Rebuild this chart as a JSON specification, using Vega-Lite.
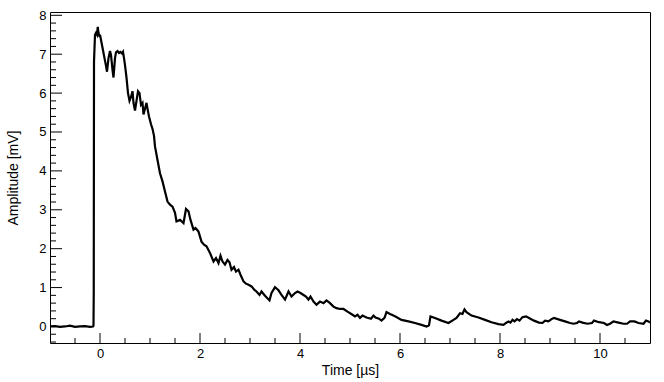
{
  "$schema": "https://vega.github.io/schema/vega-lite/v6.json",
  "width": 600,
  "height": 331,
  "autosize": "none",
  "padding": {"left": 50, "top": 12, "right": 14, "bottom": 39},
  "background": "white",
  "config": {
    "view": {"stroke": "black", "strokeWidth": 1},
    "axis": {
      "labelFont": "Liberation Sans",
      "titleFont": "Liberation Sans",
      "labelColor": "black",
      "titleColor": "black",
      "grid": false,
      "ticks": false,
      "domain": false,
      "labelFontSize": 13,
      "titleFontSize": 14,
      "titleFontWeight": "normal",
      "zindex": -1
    }
  },
  "datasets": {
    "xmajor": [{"pos": 0}, {"pos": 2}, {"pos": 4}, {"pos": 6}, {"pos": 8}, {"pos": 10}],
    "xminor": [{"pos": -0.5}, {"pos": 0.5}, {"pos": 1}, {"pos": 1.5}, {"pos": 2.5}, {"pos": 3}, {"pos": 3.5}, {"pos": 4.5}, {"pos": 5}, {"pos": 5.5}, {"pos": 6.5}, {"pos": 7}, {"pos": 7.5}, {"pos": 8.5}, {"pos": 9}, {"pos": 9.5}, {"pos": 10.5}],
    "ymajor": [{"pos": 0}, {"pos": 1}, {"pos": 2}, {"pos": 3}, {"pos": 4}, {"pos": 5}, {"pos": 6}, {"pos": 7}, {"pos": 8}],
    "yminor": [{"pos": -0.4}, {"pos": -0.2}, {"pos": 0.2}, {"pos": 0.4}, {"pos": 0.6}, {"pos": 0.8}, {"pos": 1.2}, {"pos": 1.4}, {"pos": 1.6}, {"pos": 1.8}, {"pos": 2.2}, {"pos": 2.4}, {"pos": 2.6}, {"pos": 2.8}, {"pos": 3.2}, {"pos": 3.4}, {"pos": 3.6}, {"pos": 3.8}, {"pos": 4.2}, {"pos": 4.4}, {"pos": 4.6}, {"pos": 4.8}, {"pos": 5.2}, {"pos": 5.4}, {"pos": 5.6}, {"pos": 5.8}, {"pos": 6.2}, {"pos": 6.4}, {"pos": 6.6}, {"pos": 6.8}, {"pos": 7.2}, {"pos": 7.4}, {"pos": 7.6}, {"pos": 7.8}],
    "wave": [
      {"t": -1.0, "v": 0.0}, {"t": -0.9, "v": 0.01}, {"t": -0.8, "v": -0.01}, {"t": -0.7, "v": 0.0},
      {"t": -0.6, "v": 0.02}, {"t": -0.5, "v": -0.01}, {"t": -0.4, "v": 0.0}, {"t": -0.3, "v": 0.01},
      {"t": -0.2, "v": -0.01}, {"t": -0.14, "v": 0.0}, {"t": -0.13, "v": 0.02}, {"t": -0.125, "v": 0.9},
      {"t": -0.12, "v": 6.8}, {"t": -0.1, "v": 7.5}, {"t": -0.08, "v": 7.55}, {"t": -0.06, "v": 7.5},
      {"t": -0.045, "v": 7.7}, {"t": -0.03, "v": 7.55}, {"t": -0.01, "v": 7.45}, {"t": 0.0, "v": 7.5},
      {"t": 0.03, "v": 7.3}, {"t": 0.06, "v": 7.1}, {"t": 0.09, "v": 6.9}, {"t": 0.12, "v": 6.7},
      {"t": 0.14, "v": 6.55}, {"t": 0.17, "v": 6.9}, {"t": 0.2, "v": 7.08}, {"t": 0.22, "v": 6.98},
      {"t": 0.25, "v": 6.6}, {"t": 0.27, "v": 6.4}, {"t": 0.3, "v": 6.9}, {"t": 0.32, "v": 7.05},
      {"t": 0.35, "v": 7.08}, {"t": 0.38, "v": 7.03}, {"t": 0.41, "v": 7.06}, {"t": 0.44, "v": 7.02},
      {"t": 0.46, "v": 7.06}, {"t": 0.48, "v": 6.9}, {"t": 0.5, "v": 6.72}, {"t": 0.53, "v": 6.4},
      {"t": 0.56, "v": 6.0}, {"t": 0.59, "v": 5.8}, {"t": 0.62, "v": 5.9}, {"t": 0.65, "v": 6.05},
      {"t": 0.67, "v": 5.75}, {"t": 0.7, "v": 5.55}, {"t": 0.73, "v": 5.8}, {"t": 0.76, "v": 6.05},
      {"t": 0.79, "v": 6.0}, {"t": 0.82, "v": 5.7}, {"t": 0.85, "v": 5.75}, {"t": 0.87, "v": 5.45},
      {"t": 0.9, "v": 5.6}, {"t": 0.93, "v": 5.75}, {"t": 0.95, "v": 5.6}, {"t": 0.98, "v": 5.4},
      {"t": 1.02, "v": 5.2}, {"t": 1.05, "v": 5.08}, {"t": 1.08, "v": 4.9}, {"t": 1.1, "v": 4.63},
      {"t": 1.15, "v": 4.28}, {"t": 1.2, "v": 3.94}, {"t": 1.25, "v": 3.73}, {"t": 1.3, "v": 3.47},
      {"t": 1.35, "v": 3.21}, {"t": 1.4, "v": 3.13}, {"t": 1.45, "v": 3.08}, {"t": 1.5, "v": 2.92},
      {"t": 1.53, "v": 2.7}, {"t": 1.6, "v": 2.74}, {"t": 1.67, "v": 2.66}, {"t": 1.72, "v": 3.02},
      {"t": 1.77, "v": 2.96}, {"t": 1.81, "v": 2.74}, {"t": 1.87, "v": 2.49}, {"t": 1.91, "v": 2.53},
      {"t": 1.97, "v": 2.44}, {"t": 2.03, "v": 2.18}, {"t": 2.08, "v": 2.1}, {"t": 2.13, "v": 2.06},
      {"t": 2.2, "v": 1.89}, {"t": 2.27, "v": 1.67}, {"t": 2.32, "v": 1.76}, {"t": 2.37, "v": 1.63},
      {"t": 2.41, "v": 1.82}, {"t": 2.45, "v": 1.67}, {"t": 2.5, "v": 1.59}, {"t": 2.55, "v": 1.71},
      {"t": 2.59, "v": 1.65}, {"t": 2.63, "v": 1.46}, {"t": 2.68, "v": 1.53}, {"t": 2.72, "v": 1.41},
      {"t": 2.77, "v": 1.46}, {"t": 2.81, "v": 1.33}, {"t": 2.87, "v": 1.16}, {"t": 2.92, "v": 1.1},
      {"t": 2.97, "v": 1.07}, {"t": 3.03, "v": 1.03}, {"t": 3.09, "v": 0.94}, {"t": 3.13, "v": 0.9},
      {"t": 3.19, "v": 0.81}, {"t": 3.23, "v": 0.9}, {"t": 3.3, "v": 0.79}, {"t": 3.39, "v": 0.67},
      {"t": 3.43, "v": 0.86}, {"t": 3.5, "v": 1.01}, {"t": 3.57, "v": 0.93}, {"t": 3.63, "v": 0.81},
      {"t": 3.7, "v": 0.69}, {"t": 3.77, "v": 0.9}, {"t": 3.83, "v": 0.77}, {"t": 3.9, "v": 0.86},
      {"t": 3.95, "v": 0.9}, {"t": 4.01, "v": 0.86}, {"t": 4.07, "v": 0.81}, {"t": 4.12, "v": 0.77},
      {"t": 4.17, "v": 0.69}, {"t": 4.21, "v": 0.77}, {"t": 4.27, "v": 0.64}, {"t": 4.33, "v": 0.56},
      {"t": 4.4, "v": 0.64}, {"t": 4.47, "v": 0.6}, {"t": 4.53, "v": 0.67}, {"t": 4.6, "v": 0.6},
      {"t": 4.67, "v": 0.51}, {"t": 4.73, "v": 0.47}, {"t": 4.8, "v": 0.45}, {"t": 4.87, "v": 0.45},
      {"t": 4.95, "v": 0.38}, {"t": 5.05, "v": 0.3}, {"t": 5.1, "v": 0.26}, {"t": 5.15, "v": 0.3},
      {"t": 5.2, "v": 0.22}, {"t": 5.25, "v": 0.28}, {"t": 5.33, "v": 0.23}, {"t": 5.42, "v": 0.2},
      {"t": 5.47, "v": 0.28}, {"t": 5.51, "v": 0.23}, {"t": 5.58, "v": 0.2}, {"t": 5.63, "v": 0.15},
      {"t": 5.69, "v": 0.22}, {"t": 5.73, "v": 0.37}, {"t": 5.8, "v": 0.32}, {"t": 5.9, "v": 0.26},
      {"t": 6.03, "v": 0.17}, {"t": 6.17, "v": 0.13}, {"t": 6.3, "v": 0.09}, {"t": 6.43, "v": 0.04},
      {"t": 6.53, "v": 0.0}, {"t": 6.58, "v": 0.03}, {"t": 6.61, "v": 0.26}, {"t": 6.7, "v": 0.22},
      {"t": 6.83, "v": 0.15}, {"t": 6.97, "v": 0.09}, {"t": 7.07, "v": 0.17}, {"t": 7.13, "v": 0.22},
      {"t": 7.2, "v": 0.34}, {"t": 7.25, "v": 0.32}, {"t": 7.29, "v": 0.44}, {"t": 7.33, "v": 0.37},
      {"t": 7.43, "v": 0.28}, {"t": 7.57, "v": 0.23}, {"t": 7.7, "v": 0.17}, {"t": 7.83, "v": 0.11},
      {"t": 7.97, "v": 0.06}, {"t": 8.07, "v": 0.04}, {"t": 8.12, "v": 0.09}, {"t": 8.17, "v": 0.13},
      {"t": 8.21, "v": 0.1}, {"t": 8.25, "v": 0.17}, {"t": 8.29, "v": 0.13}, {"t": 8.34, "v": 0.19},
      {"t": 8.39, "v": 0.15}, {"t": 8.45, "v": 0.24}, {"t": 8.52, "v": 0.26}, {"t": 8.58, "v": 0.22},
      {"t": 8.68, "v": 0.15}, {"t": 8.78, "v": 0.1}, {"t": 8.85, "v": 0.09}, {"t": 8.9, "v": 0.15},
      {"t": 8.97, "v": 0.13}, {"t": 9.03, "v": 0.19}, {"t": 9.08, "v": 0.22}, {"t": 9.2, "v": 0.17},
      {"t": 9.3, "v": 0.13}, {"t": 9.4, "v": 0.09}, {"t": 9.47, "v": 0.07}, {"t": 9.54, "v": 0.09},
      {"t": 9.58, "v": 0.13}, {"t": 9.65, "v": 0.1}, {"t": 9.75, "v": 0.07}, {"t": 9.84, "v": 0.09},
      {"t": 9.88, "v": 0.15}, {"t": 9.98, "v": 0.11}, {"t": 10.08, "v": 0.09}, {"t": 10.14, "v": 0.04},
      {"t": 10.2, "v": 0.07}, {"t": 10.27, "v": 0.13}, {"t": 10.37, "v": 0.1}, {"t": 10.47, "v": 0.07},
      {"t": 10.54, "v": 0.07}, {"t": 10.6, "v": 0.13}, {"t": 10.69, "v": 0.13}, {"t": 10.77, "v": 0.09},
      {"t": 10.87, "v": 0.07}, {"t": 10.92, "v": 0.15}, {"t": 10.97, "v": 0.13}, {"t": 11.0, "v": 0.1}
    ]
  },
  "layer": [
    {
      "data": {"name": "wave"},
      "mark": {"type": "line", "color": "black", "strokeWidth": 2.2, "clip": true},
      "encoding": {
        "x": {
          "field": "t", "type": "quantitative", "title": "Time [µs]",
          "scale": {"domain": [-1, 11], "nice": false, "zero": false},
          "axis": {"values": [0, 2, 4, 6, 8, 10], "labelPadding": 4, "title": "Time [µs]", "titlePadding": 3, "orient": "bottom"}
        },
        "y": {
          "field": "v", "type": "quantitative", "title": "Amplitude [mV]",
          "scale": {"domain": [-0.425, 8.085], "nice": false, "zero": false},
          "axis": {"values": [0, 1, 2, 3, 4, 5, 6, 7, 8], "labelPadding": 4, "title": "Amplitude [mV]", "titlePadding": 18, "orient": "left"}
        }
      }
    },
    {
      "data": {"name": "xmajor"},
      "mark": {"type": "rule", "color": "black", "strokeWidth": 1},
      "encoding": {
        "x": {"field": "pos", "type": "quantitative", "title": "Time [µs]"},
        "y": {"datum": -0.425, "type": "quantitative", "title": "Amplitude [mV]"},
        "y2": {"datum": -0.168}
      }
    },
    {
      "data": {"name": "xminor"},
      "mark": {"type": "rule", "color": "black", "strokeWidth": 1},
      "encoding": {
        "x": {"field": "pos", "type": "quantitative", "title": "Time [µs]"},
        "y": {"datum": -0.425, "type": "quantitative", "title": "Amplitude [mV]"},
        "y2": {"datum": -0.296}
      }
    },
    {
      "data": {"name": "ymajor"},
      "mark": {"type": "rule", "color": "black", "strokeWidth": 1},
      "encoding": {
        "y": {"field": "pos", "type": "quantitative", "title": "Amplitude [mV]"},
        "x": {"datum": -1, "type": "quantitative", "title": "Time [µs]"},
        "x2": {"datum": -0.76}
      }
    },
    {
      "data": {"name": "yminor"},
      "mark": {"type": "rule", "color": "black", "strokeWidth": 1},
      "encoding": {
        "y": {"field": "pos", "type": "quantitative", "title": "Amplitude [mV]"},
        "x": {"datum": -1, "type": "quantitative", "title": "Time [µs]"},
        "x2": {"datum": -0.88}
      }
    }
  ]
}
